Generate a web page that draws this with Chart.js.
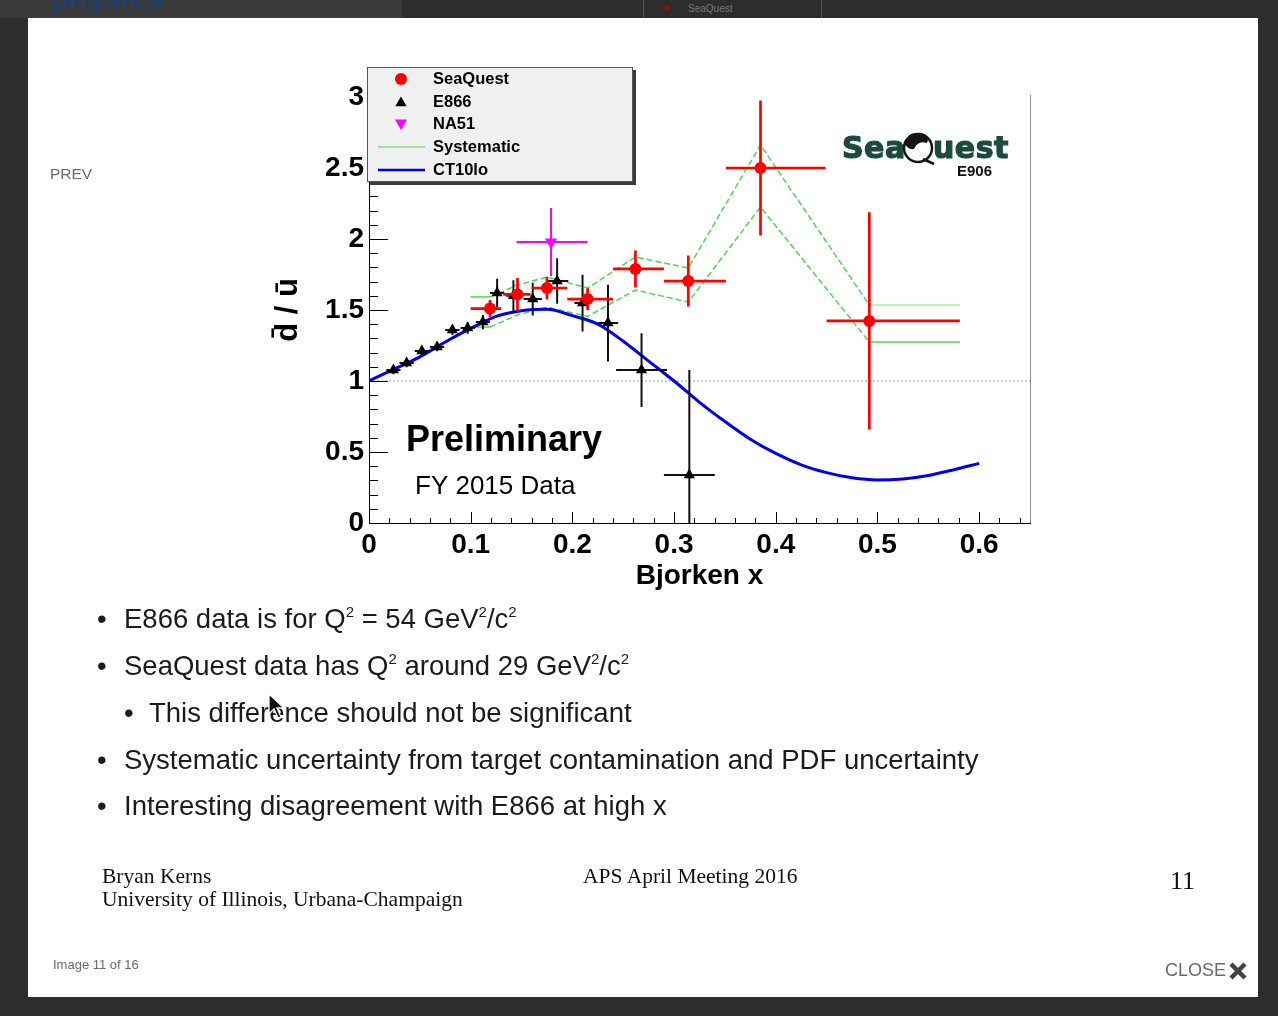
<!DOCTYPE html>
<html lang="en">
<head>
<meta charset="UTF-8">
<meta name="viewport" content="width=device-width, initial-scale=1.0">
<script src="https://cdn.jsdelivr.net/npm/chart.js"></script>
<title>SeaQuest d-bar / u-bar - APS April Meeting 2016</title>
<style>
    body { margin: 0; width: 1278px; height: 1016px; overflow: hidden; position: relative; background: #2d2d2d; font-family: "Liberation Sans", Arial, sans-serif; }
    .abs { position: absolute; white-space: nowrap; }
    #slide { position: absolute; left: 28px; top: 18px; width: 1230px; height: 979px; background: #fff; }
    #chart { position: absolute; left: 0; top: 0; }
    .item { font-size: 27.5px; line-height: 28px; color: #1b1b1b; }
    .item sup { font-size: 15px; vertical-align: 11px; line-height: 0; }
    .foot { font-family: "Liberation Serif", "Times New Roman", serif; font-size: 21.5px; line-height: 22px; color: #111; }
    .nav { color: #6a6a6a; }
</style>
</head>
<body>
<!-- previous slide showing above the lightbox -->
<div class="abs" style="left:0;top:0;width:402px;height:18px;background:#3b3b3b"></div>
<div class="abs" style="left:52px;top:-19px;font-size:30px;font-weight:bold;color:#203f6e">physics</div>
<div class="abs" style="left:643px;top:0;width:1px;height:18px;background:#555"></div>
<div class="abs" style="left:821px;top:0;width:1px;height:18px;background:#555"></div>
<div class="abs" style="left:664px;top:5px;width:6px;height:6px;border-radius:3px;background:#8a1010"></div>
<div class="abs" style="left:688px;top:3px;font-size:10px;color:#777">SeaQuest</div>

<div id="slide"></div>
<canvas id="chart" width="1278" height="1016"></canvas>

<div class="abs nav" style="left:50px;top:165px;font-size:15.5px">PREV</div>

<div class="abs item" style="left:97px;top:605px">•</div>
<div class="abs item" style="left:124px;top:605px">E866 data is for Q<sup>2</sup> = 54 GeV<sup>2</sup>/c<sup>2</sup></div>
<div class="abs item" style="left:97px;top:652px">•</div>
<div class="abs item" style="left:124px;top:652px">SeaQuest data has Q<sup>2</sup> around 29 GeV<sup>2</sup>/c<sup>2</sup></div>
<div class="abs item" style="left:124px;top:699px">•</div>
<div class="abs item" style="left:149px;top:699px">This difference should not be significant</div>
<div class="abs item" style="left:97px;top:746px">•</div>
<div class="abs item" style="left:124px;top:746px">Systematic uncertainty from target contamination and PDF uncertainty</div>
<div class="abs item" style="left:97px;top:792px">•</div>
<div class="abs item" style="left:124px;top:792px">Interesting disagreement with E866 at high x</div>

<div class="abs foot" style="left:102px;top:865px">Bryan Kerns</div>
<div class="abs foot" style="left:102px;top:888px">University of Illinois, Urbana-Champaign</div>
<div class="abs foot" style="left:583px;top:865px">APS April Meeting 2016</div>
<div class="abs foot" style="left:1170px;top:867px;font-size:26px;line-height:28px">11</div>

<div class="abs nav" style="left:53px;top:957px;font-size:13px">Image 11 of 16</div>
<div class="abs nav" style="left:1165px;top:960px;font-size:18px">CLOSE</div>
<svg class="abs" style="left:1228px;top:961px" width="20" height="20">
    <path d="M3 3 L17 17 M17 3 L3 17" stroke="#444" stroke-width="4.5"/>
</svg>
<!-- mouse pointer -->
<svg class="abs" style="left:268px;top:693px" width="22" height="28">
    <path d="M1 1 L1 21 L6 16 L10 25 L13 24 L9 15 L16 15 Z" fill="#111" stroke="#fff" stroke-width="1.3"/>
</svg>

<script>
const plotFont = '"Liberation Sans", Arial, sans-serif';

// axis ticks
const xTickValues = [0, 0.1, 0.2, 0.3, 0.4, 0.5, 0.6];
const xTickLabels = ['0', '0.1', '0.2', '0.3', '0.4', '0.5', '0.6'];
const yTickValues = [0, 0.5, 1, 1.5, 2, 2.5, 3];
const yTickLabels = ['0', '0.5', '1', '1.5', '2', '2.5', '3'];

// SeaQuest (E906) FY2015, bins in x
const sqX   = [0.119, 0.146, 0.175, 0.215, 0.262, 0.314, 0.385, 0.492];
const sqY   = [1.51, 1.61, 1.655, 1.577, 1.789, 1.704, 2.50, 1.423];
const sqXlo = [0.100, 0.132, 0.160, 0.195, 0.240, 0.290, 0.351, 0.450];
const sqXhi = [0.130, 0.159, 0.195, 0.240, 0.290, 0.351, 0.449, 0.581];
const sqEy  = [0.06, 0.115, 0.08, 0.077, 0.13, 0.18, 0.475, 0.765];

// systematic band edges at the SeaQuest points
const sysHi = [1.592, 1.676, 1.732, 1.655, 1.873, 1.796, 2.662, 1.535];
const sysLo = [1.380, 1.465, 1.521, 1.455, 1.641, 1.556, 2.225, 1.275];

// E866
const e866X  = [0.024, 0.037, 0.052, 0.067, 0.082, 0.097, 0.112, 0.126, 0.142, 0.161, 0.185, 0.210, 0.235, 0.268, 0.315];
const e866Y  = [1.077, 1.127, 1.211, 1.239, 1.359, 1.373, 1.415, 1.62, 1.60, 1.577, 1.704, 1.549, 1.408, 1.077, 0.338];
const e866Ex = [0.007, 0.007, 0.007, 0.007, 0.007, 0.007, 0.007, 0.007, 0.007, 0.009, 0.011, 0.008, 0.010, 0.025, 0.025];
const e866Ey = [0.03, 0.03, 0.03, 0.03, 0.035, 0.04, 0.05, 0.10, 0.11, 0.115, 0.16, 0.20, 0.27, 0.26, 0.74];

// NA51
const na51X   = [0.179];
const na51Y   = [1.979];
const na51Xlo = [0.145];
const na51Xhi = [0.215];
const na51Ey  = [0.24];

// CT10lo prediction
const ctX = [0, 0.025, 0.05, 0.075, 0.1, 0.125, 0.15, 0.175, 0.2, 0.225, 0.25, 0.275, 0.3, 0.325, 0.35, 0.375, 0.4, 0.425, 0.45, 0.475, 0.5, 0.525, 0.55, 0.575, 0.6];
const ctY = [1.0, 1.085, 1.17, 1.275, 1.37, 1.455, 1.495, 1.505, 1.46, 1.40, 1.28, 1.14, 1.0, 0.85, 0.715, 0.59, 0.49, 0.41, 0.355, 0.318, 0.303, 0.31, 0.335, 0.375, 0.42];

// horizontal + vertical bar for each point, null points split the line
function crossBars(xs, ys, xLo, xHi, yLo, yHi) {
    const pts = [];
    xs.forEach((x, i) => {
        pts.push({x: xLo[i], y: ys[i]}, {x: xHi[i], y: ys[i]}, {x: xHi[i], y: null});
        pts.push({x: x, y: yLo[i]}, {x: x, y: yHi[i]}, {x: x, y: null});
    });
    return pts;
}
const xy = (xs, ys) => xs.map((x, i) => ({x: x, y: ys[i]}));

function bandEdge(vals) {
    const last = sqX.length - 1;
    return [{x: sqXlo[0], y: vals[0]}, ...xy(sqX, vals), {x: sqXhi[last], y: vals[last]}];
}

const green = '#4fd64f';
const bandSegment = (lastColor) => ({
    borderDash: c => (c.p0DataIndex === 0 || c.p1DataIndex === sqX.length + 1) ? [] : [6, 3],
    borderColor: c => c.p1DataIndex === sqX.length + 1 ? lastColor : green
});

const lineDefaults = {type: 'line', showLine: true, pointRadius: 0, fill: false, tension: 0, spanGaps: false};

// inward ticks and right frame edge, ROOT style
const frameTicks = {
    id: 'frameTicks',
    afterDatasetsDraw(chart) {
        const {ctx, chartArea: a, scales: {x, y}} = chart;
        ctx.save();
        ctx.strokeStyle = '#000';
        ctx.lineWidth = 1;
        ctx.beginPath();
        for (let i = 0; i <= 30; i++) {
            const py = Math.round(y.getPixelForValue(i / 10)) + 0.5;
            ctx.moveTo(a.left, py);
            ctx.lineTo(a.left + (i % 5 === 0 ? 19 : 9), py);
        }
        for (let i = 0; i <= 32; i++) {
            const px = Math.round(x.getPixelForValue(i / 50)) + 0.5;
            ctx.moveTo(px, a.bottom);
            ctx.lineTo(px, a.bottom - (i % 5 === 0 ? 11 : 5));
        }
        ctx.stroke();
        ctx.strokeStyle = '#8c8c8c';
        ctx.beginPath();
        ctx.moveTo(a.right + 0.5, a.top - 2);
        ctx.lineTo(a.right + 0.5, a.bottom);
        ctx.stroke();
        ctx.restore();
    }
};

function marker(ctx, style, x, y, r, color) {
    ctx.fillStyle = color;
    ctx.beginPath();
    if (style === 'circle') {
        ctx.arc(x, y, r, 0, Math.PI * 2);
    } else {
        const s = style === 'down' ? -1 : 1;
        ctx.moveTo(x, y - s * r);
        ctx.lineTo(x + r * 0.866, y + s * r / 2);
        ctx.lineTo(x - r * 0.866, y + s * r / 2);
        ctx.closePath();
    }
    ctx.fill();
}

// legend box, logo and labels
const overlay = {
    id: 'overlay',
    afterDraw(chart) {
        const ctx = chart.ctx;
        ctx.save();

        // legend
        ctx.fillStyle = '#3a3a3a';
        ctx.fillRect(370, 70, 266, 115);
        ctx.fillStyle = '#f0f0f0';
        ctx.fillRect(367, 67, 266, 115);
        ctx.strokeStyle = '#555';
        ctx.lineWidth = 1;
        ctx.strokeRect(367.5, 67.5, 265, 114);

        const rows = [79, 102, 124, 147, 170];
        marker(ctx, 'circle', 401, rows[0], 6, '#ff0000');
        marker(ctx, 'up', 401, rows[1] + 1, 6.5, '#000');
        marker(ctx, 'down', 401, rows[2] - 1, 7, '#ff00ff');
        ctx.lineWidth = 1.5;
        ctx.strokeStyle = '#7be07b';
        ctx.beginPath(); ctx.moveTo(378, rows[3]); ctx.lineTo(425, rows[3]); ctx.stroke();
        ctx.lineWidth = 2.5;
        ctx.strokeStyle = '#0000ee';
        ctx.beginPath(); ctx.moveTo(378, rows[4]); ctx.lineTo(425, rows[4]); ctx.stroke();

        ctx.fillStyle = '#000';
        ctx.font = 'bold 16.5px ' + plotFont;
        ctx.textBaseline = 'middle';
        ['SeaQuest', 'E866', 'NA51', 'Systematic', 'CT10lo'].forEach((t, i) => ctx.fillText(t, 433, rows[i]));

        // experiment logo
        ctx.textBaseline = 'alphabetic';
        ctx.fillStyle = '#1d4a3e';
        ctx.strokeStyle = '#1d4a3e';
        ctx.lineWidth = 1.2;
        ctx.font = 'bold 30px "DejaVu Sans", sans-serif';
        ctx.letterSpacing = '0.5px';
        ctx.fillText('Sea', 842, 158);
        ctx.strokeText('Sea', 842, 158);
        ctx.fillText('uest', 933, 158);
        ctx.strokeText('uest', 933, 158);
        ctx.letterSpacing = '0px';
        ctx.beginPath();
        ctx.arc(918, 148, 14, 0, Math.PI * 2);
        ctx.fillStyle = '#fff';
        ctx.fill();
        ctx.lineWidth = 2.5;
        ctx.strokeStyle = '#151515';
        ctx.stroke();
        ctx.beginPath();
        ctx.moveTo(905, 144);
        ctx.quadraticCurveTo(906, 133, 918, 133);
        ctx.quadraticCurveTo(931, 134, 927, 143);
        ctx.quadraticCurveTo(918, 140, 914, 149);
        ctx.quadraticCurveTo(908, 150, 905, 144);
        ctx.fillStyle = '#151515';
        ctx.fill();
        ctx.beginPath();
        ctx.moveTo(923, 159);
        ctx.lineTo(934, 164);
        ctx.stroke();
        ctx.fillStyle = '#111';
        ctx.font = 'bold 15px ' + plotFont;
        ctx.fillText('E906', 957, 176);

        // preliminary label
        ctx.fillStyle = '#000';
        ctx.font = 'bold 36px ' + plotFont;
        ctx.fillText('Preliminary', 406, 451);
        ctx.font = '26px ' + plotFont;
        ctx.fillText('FY 2015 Data', 415, 494);
        ctx.restore();
    }
};

const tickFont = {family: plotFont, size: 28, weight: 'bold'};

new Chart(document.getElementById('chart'), {
    type: 'scatter',
    data: {
        datasets: [
            {   // SeaQuest points
                data: xy(sqX, sqY), order: 0,
                pointStyle: 'circle', pointRadius: 6, backgroundColor: '#ff0000', borderWidth: 0
            },
            {
                ...lineDefaults, order: 1, borderColor: '#ff0000', borderWidth: 2.7,
                data: crossBars(sqX, sqY, sqXlo, sqXhi, sqY.map((v, i) => v - sqEy[i]), sqY.map((v, i) => v + sqEy[i]))
            },
            {   // NA51
                data: xy(na51X, na51Y), order: 2,
                pointStyle: 'triangle', pointRotation: 180, pointRadius: 7, backgroundColor: '#ff00ff', borderWidth: 0
            },
            {
                ...lineDefaults, order: 3, borderColor: '#ff00ff', borderWidth: 2,
                data: crossBars(na51X, na51Y, na51Xlo, na51Xhi, na51Y.map((v, i) => v - na51Ey[i]), na51Y.map((v, i) => v + na51Ey[i]))
            },
            {   // E866
                data: xy(e866X, e866Y), order: 4,
                pointStyle: 'triangle', pointRadius: 6.5, backgroundColor: '#000', borderWidth: 0
            },
            {
                ...lineDefaults, order: 5, borderColor: '#111', borderWidth: 2,
                data: crossBars(e866X, e866Y,
                    e866X.map((v, i) => v - e866Ex[i]), e866X.map((v, i) => v + e866Ex[i]),
                    e866Y.map((v, i) => v - e866Ey[i]), e866Y.map((v, i) => v + e866Ey[i]))
            },
            {   // CT10lo
                ...lineDefaults, order: 6, data: xy(ctX, ctY),
                borderColor: '#0000ee', borderWidth: 3, tension: 0.4, cubicInterpolationMode: 'monotone'
            },
            {   // systematic band
                ...lineDefaults, order: 7, data: bandEdge(sysHi), borderWidth: 1.5,
                borderColor: green, segment: bandSegment('#a8eca8')
            },
            {
                ...lineDefaults, order: 7, data: bandEdge(sysLo), borderWidth: 1.5,
                borderColor: green, segment: bandSegment('#52d852')
            },
            {   // y = 1 reference
                ...lineDefaults, order: 8, data: [{x: 0, y: 1}, {x: 0.65, y: 1}],
                borderColor: '#a0a0a0', borderWidth: 1, borderDash: [2, 2]
            }
        ]
    },
    options: {
        responsive: false,
        animation: false,
        events: [],
        layout: {padding: {left: 269, top: 97, right: 248, bottom: 423}},
        plugins: {legend: {display: false}, tooltip: {enabled: false}},
        scales: {
            x: {
                type: 'linear', min: 0, max: 0.65,
                afterFit: s => { s.height = 70; },
                afterBuildTicks: s => { s.ticks = xTickValues.map(v => ({value: v})); },
                grid: {display: false, drawTicks: false},
                border: {display: true, color: '#000', width: 1},
                ticks: {padding: 5, color: '#000', font: tickFont, autoSkip: false, maxRotation: 0,
                        callback: (v, i) => xTickLabels[i]},
                title: {display: true, text: 'Bjorken x', color: '#000', font: tickFont, padding: {top: 0, bottom: 0}}
            },
            y: {
                type: 'linear', min: 0, max: 3,
                afterFit: s => { s.width = 100; },
                afterBuildTicks: s => { s.ticks = yTickValues.map(v => ({value: v})); },
                grid: {display: false, drawTicks: false},
                border: {display: true, color: '#000', width: 1},
                ticks: {padding: 5, color: '#000', font: tickFont, autoSkip: false,
                        callback: (v, i) => yTickLabels[i]},
                title: {display: true, text: 'd\u0304 / \u016b', color: '#000',
                        font: {family: plotFont, size: 31, weight: 'bold'}, padding: {top: 1, bottom: 0}}
            }
        }
    },
    plugins: [frameTicks, overlay]
});
</script>
</body>
</html>
